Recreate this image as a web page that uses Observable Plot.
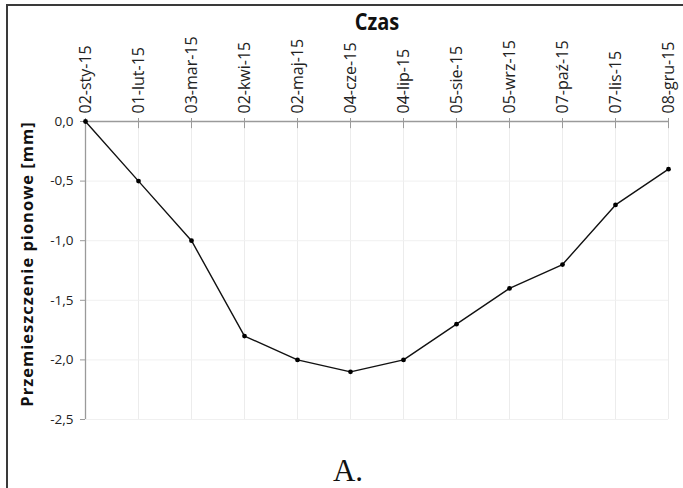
<!DOCTYPE html>
<html>
<head>
<meta charset="utf-8">
<script src="https://cdn.jsdelivr.net/npm/d3@7"></script>
<script src="https://cdn.jsdelivr.net/npm/@observablehq/plot@0.6"></script>
<style>
  html, body { margin: 0; padding: 0; background: #fff; }
  #wrap { position: relative; width: 683px; height: 488px; overflow: hidden; font-family: "Open Sans", Lato, sans-serif; }
  #frame { position: absolute; left: 6px; top: 4px; width: 700px; height: 500px; border-top: 2px solid #3a3a3a; border-left: 2px solid #3a3a3a; box-sizing: border-box; }
  #title { position: absolute; left: 277px; width: 200px; top: 8px; text-align: center; font-weight: bold; font-size: 20px; color: #111; transform: scaleY(1.12); }
  #ylabel { position: absolute; left: 27px; top: 264px; width: 400px; margin-left: -200px; text-align: center; font-weight: bold; font-size: 16.5px; line-height: 20px; margin-top: -10px; color: #111; transform: rotate(-90deg); letter-spacing: 1px; white-space: nowrap; }
  #caption { position: absolute; left: 248px; width: 200px; top: 453px; text-align: center; font-family: "Liberation Serif", "DejaVu Serif", serif; font-size: 31px; color: #111; }
  #chart { position: absolute; left: 0; top: 0; }
</style>
</head>
<body>
<div id="wrap">
  <div id="frame"></div>
  <div id="chart"></div>
  <div id="title">Czas</div>
  <div id="ylabel">Przemieszczenie pionowe [mm]</div>
  <div id="caption">A.</div>
</div>
<script>
const dates = ["02-sty-15","01-lut-15","03-mar-15","02-kwi-15","02-maj-15","04-cze-15","04-lip-15","05-sie-15","05-wrz-15","07-paź-15","07-lis-15","08-gru-15"];
const values = [0, -0.5, -1.0, -1.8, -2.0, -2.1, -2.0, -1.7, -1.4, -1.2, -0.7, -0.4];
const yTicks = [0, -0.5, -1.0, -1.5, -2.0, -2.5];

const data = dates.map((d, i) => ({date: d, value: values[i]}));
const fmt = v => v.toFixed(1).replace(".", ",");

const chart = Plot.plot({
  width: 683,
  height: 488,
  marginTop: 121,
  marginLeft: 85,
  marginRight: 15,
  marginBottom: 69,
  style: {fontFamily: "'Open Sans', Lato, sans-serif", fontSize: "13px", color: "#222", background: "transparent"},
  x: {type: "point", domain: dates, padding: 0},
  y: {domain: [-2.5, 0]},
  marks: [
    Plot.gridX(dates, {stroke: "#ececec", strokeOpacity: 1}),
    Plot.gridY(yTicks, {stroke: "#f0f0f0", strokeOpacity: 1}),
    Plot.ruleY([0], {stroke: "#9a9a9a", strokeWidth: 1.3}),
    Plot.ruleX([dates[0]], {stroke: "#9a9a9a", strokeWidth: 1.3}),
    Plot.ruleX(dates, {x: d => d, y1: 0, y2: -0.06, stroke: "#9a9a9a"}),
    Plot.axisX({anchor: "top", tickRotate: -90, tickSize: 4, tickPadding: 4, stroke: "#9a9a9a", label: null, fontSize: 16, fill: "#222", style: {letterSpacing: "0.5px"}}),
    Plot.axisY(yTicks, {anchor: "left", tickSize: 5, tickPadding: 7, tickFormat: fmt, stroke: "#9a9a9a", label: null, fontSize: 13.5, fill: "#222"}),
    Plot.line(data, {x: "date", y: "value", stroke: "#111", strokeWidth: 1.4}),
    Plot.dot(data, {x: "date", y: "value", r: 2.4, fill: "#000", stroke: "none"})
  ]
});
document.getElementById("chart").appendChild(chart);
</script>
</body>
</html>
